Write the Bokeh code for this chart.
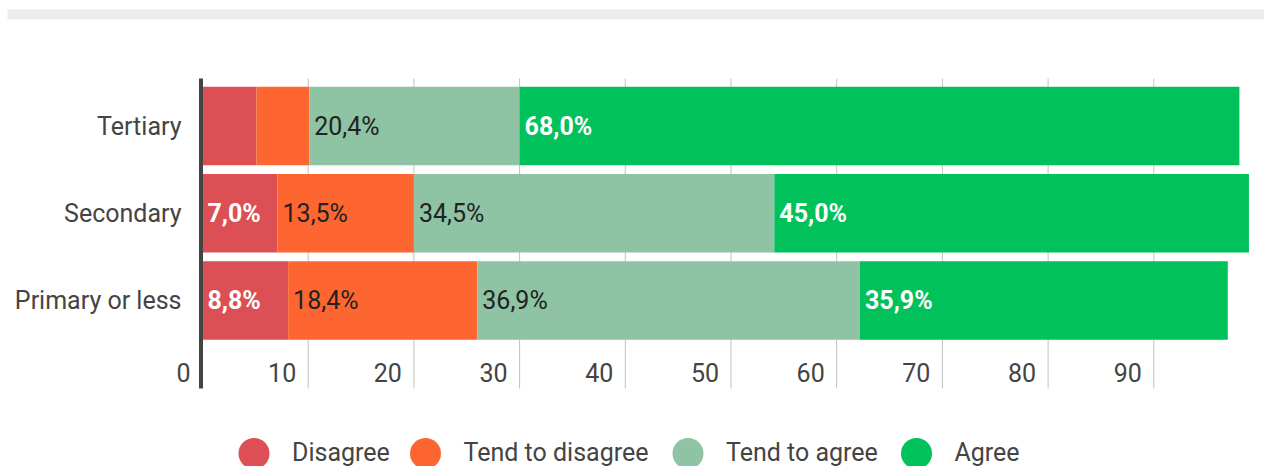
import numpy as np
from bokeh.plotting import figure
from bokeh.models import Range1d, ColumnDataSource
from bokeh.core.properties import value
from bokeh.embed import file_html
from bokeh.resources import INLINE

# ---------------- data ----------------
categories = ["Primary or less", "Secondary", "Tertiary"]          # bottom -> top
series = ["Disagree", "Tend to disagree", "Tend to agree", "Agree"]
colors = ["#db4f55", "#fe6631", "#8ec3a3", "#00c15a"]

# bar lengths as drawn in the picture (percentage points)
disagree = [8.1, 7.1, 5.1]
tend_disagree = [17.9, 12.9, 5.0]
tend_agree = [36.2, 34.1, 19.9]
agree = [34.8, 44.9, 68.1]

# printed value labels
disagree_labels = ["8,8%", "7,0%", ""]
tend_disagree_labels = ["18,4%", "13,5%", ""]
tend_agree_labels = ["36,9%", "34,5%", "20,4%"]
agree_labels = ["35,9%", "45,0%", "68,0%"]

x_ticks = [0, 10, 20, 30, 40, 50, 60, 70, 80, 90]
x_tick_labels = ["0", "10", "20", "30", "40", "50", "60", "70", "80", "90"]

# ---------------- layout ----------------
W, H = 1264, 466
PXU = 10.57          # px per percentage point
X0C = 202            # canvas x of value 0
PYU = 87.25          # px per category row
Y0C = 300            # canvas y of first row centre
FONT = "Roboto"
FS = "25px"


def sx(x_px):
    return (x_px - X0C) / PXU


def sy(y_px):
    return (Y0C - y_px) / PYU


p = figure(width=W, height=H, output_backend="svg", toolbar_location=None,
           x_range=Range1d(-X0C / PXU, (W - X0C) / PXU),
           y_range=Range1d(-(H - Y0C) / PYU, Y0C / PYU),
           x_axis_location=None, y_axis_location=None,
           min_border=0, min_border_left=0, min_border_right=0,
           min_border_top=0, min_border_bottom=0)
p.outline_line_color = None
p.xgrid.visible = False
p.ygrid.visible = False
p.background_fill_color = "white"
p.border_fill_color = "white"

# header strip
p.quad(left=[sx(7)], right=[p.x_range.end], top=[sy(9)], bottom=[sy(19)],
       fill_color="#efebee", line_color=None)

ys = list(range(len(categories)))
grid_top, grid_bot = sy(78), sy(388)

# vertical grid lines
gx = x_ticks[1:]
p.segment(x0=gx, x1=gx, y0=[grid_bot] * len(gx), y1=[grid_top] * len(gx),
          line_color="#c2c2c2", line_width=1)

# stacked bars
keys = ["d", "td", "ta", "a"]
src = ColumnDataSource(dict(y=ys, d=disagree, td=tend_disagree, ta=tend_agree, a=agree))
p.hbar_stack(keys, y="y", height=78.5 / PYU, color=colors, line_color=None, source=src)

# axis line
p.segment(x0=[sx(200.5)], x1=[sx(200.5)], y0=[grid_bot], y1=[grid_top],
          line_color="#444444", line_width=4)

# value labels
vals = np.array([disagree, tend_disagree, tend_agree, agree])
lefts = np.vstack([np.zeros(len(categories)), np.cumsum(vals, axis=0)[:-1]])
label_sets = [disagree_labels, tend_disagree_labels, tend_agree_labels, agree_labels]
label_colors = ["white", "#222222", "#222222", "white"]
label_styles = ["bold", "normal", "normal", "bold"]
for i in range(4):
    p.text(x=list(lefts[i]), y=ys, text=label_sets[i], x_offset=5,
           text_align="left", text_baseline="middle",
           text_font=value(FONT), text_font_size=FS, text_color=label_colors[i],
           text_font_style=label_styles[i])

# category labels
p.text(x=[0] * len(categories), y=ys, text=categories, x_offset=-21,
       text_align="right", text_baseline="middle",
       text_font=value(FONT), text_font_size=FS, text_color="#444444")

# x tick labels
p.text(x=x_ticks, y=[sy(372)] * len(x_ticks), text=x_tick_labels, x_offset=-12,
       text_align="right", text_baseline="middle",
       text_font=value(FONT), text_font_size=FS, text_color="#444444")

# legend
leg_cx = [253.5, 425, 687.5, 916]
p.scatter(x=[sx(c) for c in leg_cx], y=[sy(453)] * 4, marker="circle", size=31,
          fill_color=colors, line_color=None)
p.text(x=[sx(c + 38) for c in leg_cx], y=[sy(451.5)] * 4, text=series,
       text_align="left", text_baseline="middle",
       text_font=value(FONT), text_font_size=FS, text_color="#444444")

open("out.html", "w").write(file_html(p, INLINE))
